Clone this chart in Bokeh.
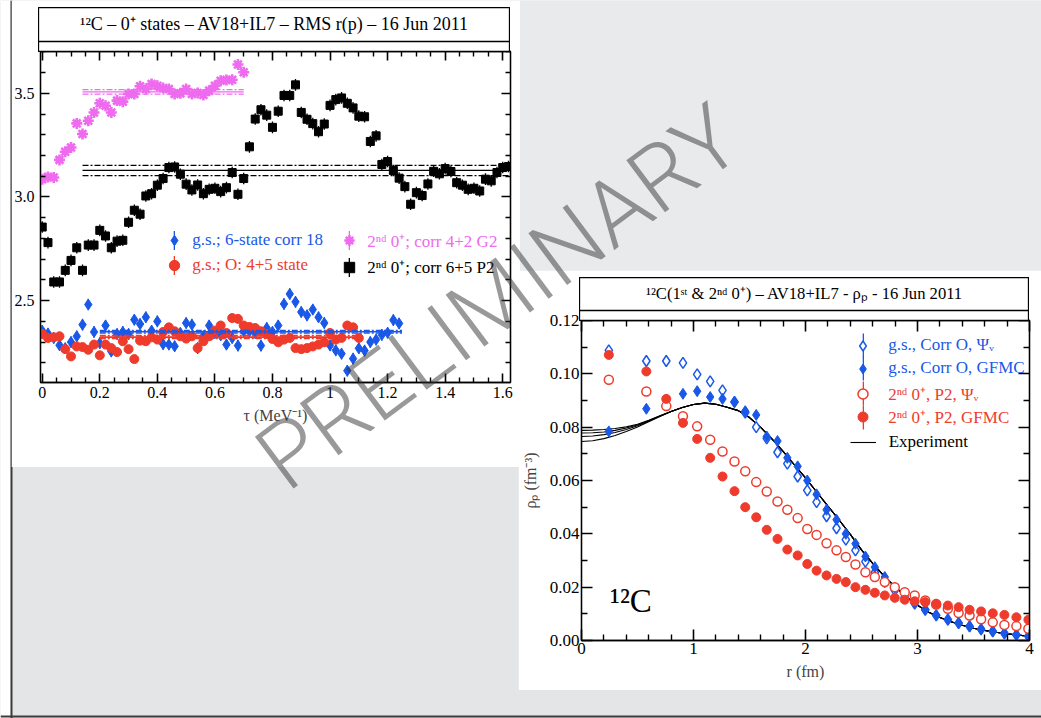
from bokeh.plotting import figure
from bokeh.models import (Range1d, LinearAxis, FixedTicker, Span, Label, Legend, LegendItem,
                          GridBox, ColumnDataSource, BoxAnnotation)
from bokeh.embed import file_html
from bokeh.resources import INLINE

SERIF = "Liberation Serif"
BLUE = "#1a58e8"
RED = "#ef3b2c"
MAG = "#ee6aee"
BLACK = "#000000"

# ---------------- left panel: RMS r(p) vs tau ----------------
tau = [0.00, 0.02, 0.04, 0.06, 0.08, 0.10, 0.12, 0.14, 0.16, 0.18,
       0.20, 0.22, 0.24, 0.26, 0.28, 0.30, 0.32, 0.34, 0.36, 0.38,
       0.40, 0.42, 0.44, 0.46, 0.48, 0.50, 0.52, 0.54, 0.56, 0.58,
       0.60, 0.62, 0.64, 0.66, 0.68, 0.70, 0.72, 0.74, 0.76, 0.78,
       0.80, 0.82, 0.84, 0.86, 0.88, 0.90, 0.92, 0.94, 0.96, 0.98,
       1.00, 1.02, 1.04, 1.06, 1.08, 1.10, 1.12, 1.14, 1.16, 1.18,
       1.20, 1.22, 1.24, 1.26, 1.28, 1.30, 1.32, 1.34, 1.36, 1.38,
       1.40, 1.42, 1.44, 1.46, 1.48, 1.50, 1.52, 1.54, 1.56, 1.58,
       1.60, 1.62]

rms_black = [2.855, 2.780, 2.590, 2.590, 2.646, 2.694, 2.755, 2.646, 2.768, 2.768,
             2.839, 2.812, 2.755, 2.787, 2.791, 2.878, 2.936, 2.917, 3.005, 3.016,
             3.057, 3.089, 3.142, 3.145, 3.110, 3.062, 3.034, 3.058, 3.016, 3.037,
             3.042, 3.026, 3.045, 3.118, 3.013, 3.089, 3.242, 3.376, 3.421, 3.395,
             3.336, 3.414, 3.490, 3.490, 3.541, 3.408, 3.375, 3.354, 3.315, 3.352,
             3.442, 3.470, 3.478, 3.452, 3.430, 3.390, 3.387, 3.268, 3.295, 3.157,
             3.171, 3.128, 3.091, 3.050, 2.965, 3.021, 3.007, 3.063, 3.124, 3.112,
             3.137, 3.123, 3.069, 3.057, 3.037, 3.042, 3.029, 3.086, 3.078, 3.118,
             3.142, 3.147]

rms_magenta = [3.086, 3.097, 3.094, 3.179, 3.218, 3.239, 3.355, 3.304, 3.368, 3.408,
               3.452, 3.440, 3.408, 3.465, 3.460, 3.497, 3.497, 3.534, 3.521, 3.545,
               3.537, 3.526, 3.521, 3.497, 3.500, 3.521, 3.497, 3.502, 3.492, 3.513,
               3.537, 3.561, 3.565, 3.566, 3.639, 3.602]

rms_blue = [2.355, 2.341, 2.320, 2.285, 2.270, 2.300, 2.328, 2.384, 2.481, 2.349,
            2.295, 2.380, 2.255, 2.339, 2.349, 2.339, 2.408, 2.387, 2.420, 2.355,
            2.400, 2.290, 2.288, 2.280, 2.344, 2.392, 2.384, 2.271, 2.328, 2.380,
            2.344, 2.333, 2.288, 2.320, 2.283, 2.352, 2.352, 2.344, 2.283, 2.368,
            2.349, 2.380, 2.484, 2.532, 2.494, 2.445, 2.429, 2.457, 2.420, 2.392,
            2.284, 2.260, 2.244, 2.162, 2.220, 2.270, 2.259, 2.300, 2.312, 2.335,
            2.345, 2.406, 2.390]

rms_red = [2.339, 2.320, 2.323, 2.328, 2.266, 2.231, 2.279, 2.276, 2.263, 2.288,
           2.236, 2.288, 2.271, 2.252, 2.304, 2.266, 2.218, 2.307, 2.304, 2.323,
           2.312, 2.349, 2.371, 2.352, 2.328, 2.317, 2.328, 2.271, 2.304, 2.328,
           2.355, 2.380, 2.344, 2.416, 2.412, 2.380, 2.373, 2.368, 2.352, 2.339,
           2.315, 2.299, 2.312, 2.320, 2.271, 2.266, 2.271, 2.279, 2.288, 2.299,
           2.344, 2.312, 2.320, 2.380, 2.371, 2.320]

err_black, err_magenta, err_blue, err_red = 0.028, 0.014, 0.028, 0.010

# averages: (mean, half width, tau from, tau to)
avg_black = (3.128, 0.025, 0.14, 1.627)
avg_magenta = (3.507, 0.011, 0.14, 0.70)
avg_blue = (2.350, 0.006, 0.20, 1.25)
avg_red = (2.324, 0.007, 0.20, 1.10)

lx_major = [0.0, 0.2, 0.4, 0.6, 0.8, 1.0, 1.2, 1.4, 1.6]
lx_minor = [0.05, 0.10, 0.15, 0.25, 0.30, 0.35, 0.45, 0.50, 0.55, 0.65, 0.70, 0.75,
            0.85, 0.90, 0.95, 1.05, 1.10, 1.15, 1.25, 1.30, 1.35, 1.45, 1.50, 1.55]
ly_major = [2.5, 3.0, 3.5]
ly_minor = [2.2, 2.3, 2.4, 2.6, 2.7, 2.8, 2.9, 3.1, 3.2, 3.3, 3.4, 3.6, 3.7]

# ---------------- right panel: proton density ----------------
r_pts = [0.244, 0.579, 0.757, 0.906, 1.033, 1.149, 1.259, 1.366, 1.462, 1.560,
         1.654, 1.750, 1.838, 1.930, 2.016, 2.099, 2.188, 2.277, 2.360, 2.446,
         2.535, 2.619, 2.708, 2.797, 2.886, 2.975, 3.069, 3.167, 3.271, 3.367,
         3.465, 3.568, 3.672, 3.776, 3.883, 3.990]

rho_gs_psi = [0.1088, 0.1048, 0.1048, 0.1041, 0.0998, 0.0972, 0.0938, 0.0895, 0.0855, 0.0800,
              0.0758, 0.0706, 0.0663, 0.0615, 0.0563, 0.0519, 0.0466, 0.0421, 0.0378, 0.0338,
              0.0296, 0.0255, 0.0220, 0.0188, 0.0160, 0.0138, 0.0115, 0.0094, 0.0078, 0.0065,
              0.0053, 0.0042, 0.0034, 0.0027, 0.0021, 0.0016]
rho_gs_gfmc = [0.0784, 0.0869, 0.0903, 0.0925, 0.0935, 0.0913, 0.0906, 0.0894, 0.0860, 0.0846,
               0.0765, 0.0748, 0.0685, 0.0653, 0.0600, 0.0548, 0.0490, 0.0453, 0.0400, 0.0363,
               0.0315, 0.0275, 0.0238, 0.0198, 0.0165, 0.0140, 0.0117, 0.0095, 0.0078, 0.0066,
               0.0053, 0.0043, 0.0034, 0.0027, 0.0021, 0.0016]
rho_p2_psi = [0.0978, 0.0934, 0.0879, 0.0841, 0.0803, 0.0753, 0.0709, 0.0671, 0.0635, 0.0594,
              0.0559, 0.0521, 0.0490, 0.0459, 0.0418, 0.0396, 0.0365, 0.0338, 0.0313, 0.0285,
              0.0256, 0.0238, 0.0219, 0.0200, 0.0181, 0.0169, 0.0150, 0.0135, 0.0119, 0.0103,
              0.0094, 0.0080, 0.0068, 0.0058, 0.0054, 0.0044]
rho_p2_gfmc = [0.1071, 0.1009, 0.0906, 0.0816, 0.0756, 0.0685, 0.0615, 0.0560, 0.0500, 0.0462,
               0.0415, 0.0381, 0.0341, 0.0319, 0.0287, 0.0262, 0.0244, 0.0231, 0.0219, 0.0200,
               0.0190, 0.0179, 0.0169, 0.0160, 0.0153, 0.0147, 0.0144, 0.0138, 0.0131, 0.0125,
               0.0115, 0.0109, 0.0102, 0.0096, 0.0087, 0.0078]
err_psi, err_gfmc = 0.0006, 0.0014

# experimental band: four curves that differ only at small r
exp_r = [0.0, 0.1, 0.2, 0.3, 0.4, 0.5, 0.6, 0.7, 0.8, 0.9,
         1.0, 1.1, 1.2, 1.3, 1.4, 1.5, 1.6, 1.7, 1.8, 1.9,
         2.0, 2.1, 2.2, 2.3, 2.4, 2.5, 2.6, 2.7, 2.8, 2.9,
         3.0, 3.1, 3.2, 3.3, 3.4, 3.5, 3.6, 3.7, 3.8, 3.9, 4.0]
exp_head_1 = [0.0788, 0.0789, 0.0791, 0.0795, 0.0801, 0.0811, 0.0826, 0.0843]
exp_head_2 = [0.0778, 0.0779, 0.0782, 0.0788, 0.0797, 0.0808, 0.0824, 0.0842]
exp_head_3 = [0.0765, 0.0767, 0.0772, 0.0780, 0.0791, 0.0805, 0.0822, 0.0841]
exp_head_4 = [0.0746, 0.0749, 0.0757, 0.0769, 0.0784, 0.0801, 0.0820, 0.0840]
exp_tail = [0.0859, 0.0874, 0.0885, 0.0890, 0.0886, 0.0875, 0.0862, 0.0836, 0.0799, 0.0756,
            0.0709, 0.0659, 0.0610, 0.0557, 0.0504, 0.0452, 0.0398, 0.0340, 0.0289, 0.0242,
            0.0201, 0.0164, 0.0132, 0.0106, 0.0086, 0.0070, 0.0057, 0.0046, 0.0038, 0.0031,
            0.0025, 0.0020, 0.0016]

rx_major = [0, 1, 2, 3, 4]
rx_minor = [0.2, 0.4, 0.6, 0.8, 1.2, 1.4, 1.6, 1.8, 2.2, 2.4, 2.6, 2.8,
            3.2, 3.4, 3.6, 3.8]
ry_major = [0.0, 0.02, 0.04, 0.06, 0.08, 0.10, 0.12]
ry_minor = [0.01, 0.03, 0.05, 0.07, 0.09, 0.11]


# ---------------- helpers ----------------
def make_axis(ticker, size, major_in, minor_in, labels, overrides=None, standoff=3):
    ax = LinearAxis(ticker=ticker)
    ax.major_tick_in = major_in
    ax.major_tick_out = 0
    ax.minor_tick_in = minor_in
    ax.minor_tick_out = 0
    ax.axis_line_width = 1.3
    ax.major_tick_line_width = 1.6
    ax.minor_tick_line_width = 1.4
    for a in ("axis_line_color", "major_tick_line_color", "minor_tick_line_color"):
        setattr(ax, a, "black")
    ax.major_label_text_font = SERIF
    if labels:
        ax.major_label_text_color = "black"
        ax.major_label_text_font_size = size
        ax.major_label_standoff = standoff
    else:
        # mirror axis: ticks only, labels not painted
        ax.major_label_text_color = None
        ax.major_label_text_font_size = "1px"
        ax.major_label_standoff = 0
    if overrides:
        ax.major_label_overrides = overrides
    return ax


def no_grid(p):
    p.xgrid.grid_line_color = None
    p.ygrid.grid_line_color = None


def item_legend(p, renderer, label, color, cx, cy, g, font_size, standoff):
    leg = Legend(items=[LegendItem(label=label, renderers=[renderer])],
                 location=(cx - g / 2, cy - g / 2), glyph_width=g, glyph_height=g,
                 label_height=g, padding=0, margin=0, spacing=0,
                 border_line_color=None, background_fill_alpha=0,
                 label_text_color=color, label_text_font=SERIF,
                 label_text_font_size=font_size, label_standoff=standoff,
                 inactive_fill_alpha=0)
    p.add_layout(leg)


def bar_legend(p, renderer, cx, cy, g):
    # icon only: the vertical error bar drawn through a legend marker (80% of a 2 x g box)
    leg = Legend(items=[LegendItem(label="", renderers=[renderer])],
                 location=(cx - 1, cy - g / 2), glyph_width=2, glyph_height=g,
                 label_height=g, padding=0, margin=0, spacing=0,
                 border_line_color=None, background_fill_alpha=0,
                 label_text_color=None, label_text_font_size="1px", label_standoff=0,
                 inactive_fill_alpha=0)
    p.add_layout(leg)


def title_box(text, w, h, font_size, left, top):
    f = figure(width=w, height=h, x_range=Range1d(0, w), y_range=Range1d(0, h),
               output_backend="svg", toolbar_location=None, min_border=0,
               x_axis_location=None, y_axis_location=None, frame_align=False,
               outline_line_color="black", outline_line_width=1.3,
               background_fill_color="white", border_fill_color="white",
               margin=(top, 0, 0, left))
    no_grid(f)
    f.add_layout(Span(location=11, dimension="width", line_color="black", line_width=1.3))
    f.add_layout(Label(x=w / 2, y=h - 16, text=text, text_align="center",
                       text_baseline="middle", text_font=SERIF, text_font_size=font_size,
                       text_color="black"))
    return f


def series(p, x, y, err, marker, size, color, fill, lw=1.0, bar_w=1.3):
    src = ColumnDataSource(dict(x=x, y=y, h=[2 * err for _ in y]))
    bar = p.rect(x="x", y="y", width=bar_w, height="h", width_units="screen", source=src,
                 fill_color=color, line_color=None)
    m = p.scatter(x="x", y="y", source=src, marker=marker, size=size, line_color=color,
                  fill_color=fill, line_width=lw)
    return m, bar


def avg_band(p, band, color, width=1.2):
    mean, half, t0, t1 = band
    p.line(x=[t0, t1], y=[mean, mean], line_color=color, line_width=width)
    p.line(x=[t0, t1], y=[mean + half, mean + half], line_color=color, line_width=width,
           line_dash="6 2 2 2")
    p.line(x=[t0, t1], y=[mean - half, mean - half], line_color=color, line_width=width,
           line_dash="6 2 2 2")


# ---------------- background slide ----------------
bg = figure(width=1041, height=718, x_range=Range1d(0, 1041), y_range=Range1d(0, 718),
            output_backend="svg", toolbar_location=None, min_border=0, frame_align=False,
            x_axis_location=None, y_axis_location=None,
            background_fill_color="#e4e5e7", border_fill_color="white", outline_line_color=None)
no_grid(bg)
bg.add_layout(BoxAnnotation(bottom=440, fill_color="#e9eaec", fill_alpha=1, line_alpha=0))
bg.add_layout(BoxAnnotation(right=10, fill_color="white", fill_alpha=1, line_alpha=0))
bg.add_layout(Span(location=11, dimension="height", line_color="#3c3c3c", line_width=2))
bg.add_layout(Span(location=2, dimension="width", line_color="#3c3c3c", line_width=2))

# ---------------- left plot ----------------
lp = figure(width=509, height=467, x_range=Range1d(-0.006, 1.627), y_range=Range1d(2.105, 3.702),
            output_backend="svg", toolbar_location=None, frame_align=False,
            min_border_left=28, min_border_right=10, min_border_top=51, min_border_bottom=85,
            x_axis_location=None, y_axis_location=None,
            outline_line_color="black", outline_line_width=1.3,
            background_fill_color="white", border_fill_color="white", margin=(0, 0, 0, 11))
no_grid(lp)
xt = FixedTicker(ticks=lx_major, minor_ticks=lx_minor)
yt = FixedTicker(ticks=ly_major, minor_ticks=ly_minor)
xb = make_axis(xt, "16px", 9, 5, True, overrides={0: "0", 1: "1"}, standoff=4)
xb.axis_label = "τ (MeV⁻¹)"
xb.axis_label_text_font = SERIF
xb.axis_label_text_font_size = "16px"
xb.axis_label_text_font_style = "normal"
xb.axis_label_standoff = 6
lp.add_layout(xb, "below")
lp.add_layout(make_axis(xt, "16px", 9, 5, False), "above")
lp.add_layout(make_axis(yt, "16px", 9, 5, True, overrides={2.5: "2.5", 3: "3.0", 3.5: "3.5"},
                        standoff=6), "left")
lp.add_layout(make_axis(yt, "16px", 9, 5, False), "right")

avg_band(lp, avg_black, BLACK)
avg_band(lp, avg_magenta, MAG)
n_b = len(rms_blue)
n_r = len(rms_red)
n_m = len(rms_magenta)
mb, bb = series(lp, tau[:n_b], rms_blue, err_blue, "diamond", 11, BLUE, BLUE)
mr, br = series(lp, tau[:n_r], rms_red, err_red, "circle", 9, RED, RED)
avg_band(lp, avg_blue, BLUE, 1.6)
avg_band(lp, avg_red, RED, 1.6)
mk, bk = series(lp, tau, rms_black, err_black, "square", 8, BLACK, BLACK)
mm, bm = series(lp, tau[:n_m], rms_magenta, err_magenta, "asterisk", 11, MAG, MAG, lw=2.6)

for (m, bar, lab, col, cx, cy) in (
        (mb, bb, "g.s.; 6-state corr 18", BLUE, 134.3, 142),
        (mr, br, "g.s.; O: 4+5 state", RED, 134.3, 117),
        (mm, bm, "2ⁿᵈ 0⁺; corr 4+2 G2", MAG, 309.3, 142),
        (mk, bk, "2ⁿᵈ 0⁺; corr 6+5 P2", BLACK, 309.3, 115.3)):
    bar_legend(lp, bar, cx, cy, 24)
    item_legend(lp, m, lab, col, cx, cy, 26, "17px", 5)

lt = title_box("¹²C – 0⁺ states – AV18+IL7 – RMS r(p) – 16 Jun 2011", 472, 45, "18px", 38, 7)

# ---------------- right plot ----------------
rp = figure(width=523, height=420, x_range=Range1d(0, 4), y_range=Range1d(0, 0.12),
            output_backend="svg", toolbar_location=None, frame_align=False,
            min_border_left=61, min_border_right=12, min_border_top=50, min_border_bottom=50,
            x_axis_location=None, y_axis_location=None,
            outline_line_color="black", outline_line_width=1.3,
            background_fill_color="white", border_fill_color="white", margin=(270, 0, 0, 518))
no_grid(rp)
rxt = FixedTicker(ticks=rx_major, minor_ticks=rx_minor)
ryt = FixedTicker(ticks=ry_major, minor_ticks=ry_minor)
rxb = make_axis(rxt, "17px", 11, 6, True, standoff=2)
rxb.axis_label = "r (fm)"
rxb.axis_label_text_font = SERIF
rxb.axis_label_text_font_size = "16px"
rxb.axis_label_text_font_style = "normal"
rxb.axis_label_standoff = 6
rp.add_layout(rxb, "below")
rp.add_layout(make_axis(rxt, "17px", 11, 6, False), "above")
ryl = make_axis(ryt, "17px", 11, 6, True,
                overrides={0: "0.00", 0.02: "0.02", 0.04: "0.04", 0.06: "0.06",
                           0.08: "0.08", 0.1: "0.10", 0.12: "0.12"}, standoff=2)
ryl.axis_label = "ρₚ (fm⁻³)"
ryl.axis_label_text_font = SERIF
ryl.axis_label_text_font_size = "16px"
ryl.axis_label_text_font_style = "normal"
ryl.axis_label_standoff = 8
rp.add_layout(ryl, "left")
rp.add_layout(make_axis(ryt, "17px", 11, 6, False), "right")

exp_lines = []
for head in (exp_head_1, exp_head_2, exp_head_3, exp_head_4):
    exp_lines.append(rp.line(x=exp_r, y=head + exp_tail, line_color="black", line_width=1.1))

rb_open, rb_open_bar = series(rp, r_pts, rho_gs_psi, err_psi, "diamond", 11, BLUE, "white", lw=1.5)
rb_fill, rb_fill_bar = series(rp, r_pts, rho_gs_gfmc, err_gfmc, "diamond", 11, BLUE, BLUE)
rr_open, rr_open_bar = series(rp, r_pts, rho_p2_psi, err_psi, "circle", 9, RED, "white", lw=1.5)
rr_fill, rr_fill_bar = series(rp, r_pts, rho_p2_gfmc, err_gfmc, "circle", 9, RED, RED)

for (m, bar, lab, col, cy) in (
        (rb_open, rb_open_bar, "g.s., Corr O, Ψᵥ", BLUE, 295),
        (rb_fill, rb_fill_bar, "g.s., Corr O, GFMC", BLUE, 271.7),
        (rr_open, rr_open_bar, "2ⁿᵈ 0⁺, P2, Ψᵥ", RED, 246.7),
        (rr_fill, rr_fill_bar, "2ⁿᵈ 0⁺, P2, GFMC", RED, 223.3)):
    bar_legend(rp, bar, 281.7, cy, 30)
    item_legend(rp, m, lab, col, 281.7, cy, 25, "17px", 13)
item_legend(rp, exp_lines[0], "Experiment", BLACK, 281.7, 198.3, 26, "17px", 13)

rp.add_layout(Label(x=0.255, y=0.0148, text="¹²C", text_font=SERIF, text_font_size="33px",
                    text_color="black", text_baseline="alphabetic"))

rt = title_box("¹²C(1ˢᵗ & 2ⁿᵈ 0⁺) – AV18+IL7 - ρₚ - 16 Jun 2011", 450, 44, "16.6px", 579, 277)

# ---------------- watermark ----------------
wm = figure(width=1041, height=718, x_range=Range1d(0, 1041), y_range=Range1d(0, 718),
            output_backend="svg", toolbar_location=None, min_border=0, frame_align=False,
            x_axis_location=None, y_axis_location=None,
            background_fill_alpha=0, border_fill_alpha=0, outline_line_color=None)
no_grid(wm)
wm.add_layout(Label(x=498, y=718 - 297, text="PRELIMINARY", angle=0.64, text_align="center",
                    text_baseline="middle", text_font="Roboto Light", text_font_size="91px",
                    text_color="#333333", text_alpha=0.5))

page = GridBox(children=[(bg, 0, 0), (lp, 0, 0), (lt, 0, 0), (rp, 0, 0), (rt, 0, 0), (wm, 0, 0)])

open("out.html", "w").write(file_html(page, INLINE))
